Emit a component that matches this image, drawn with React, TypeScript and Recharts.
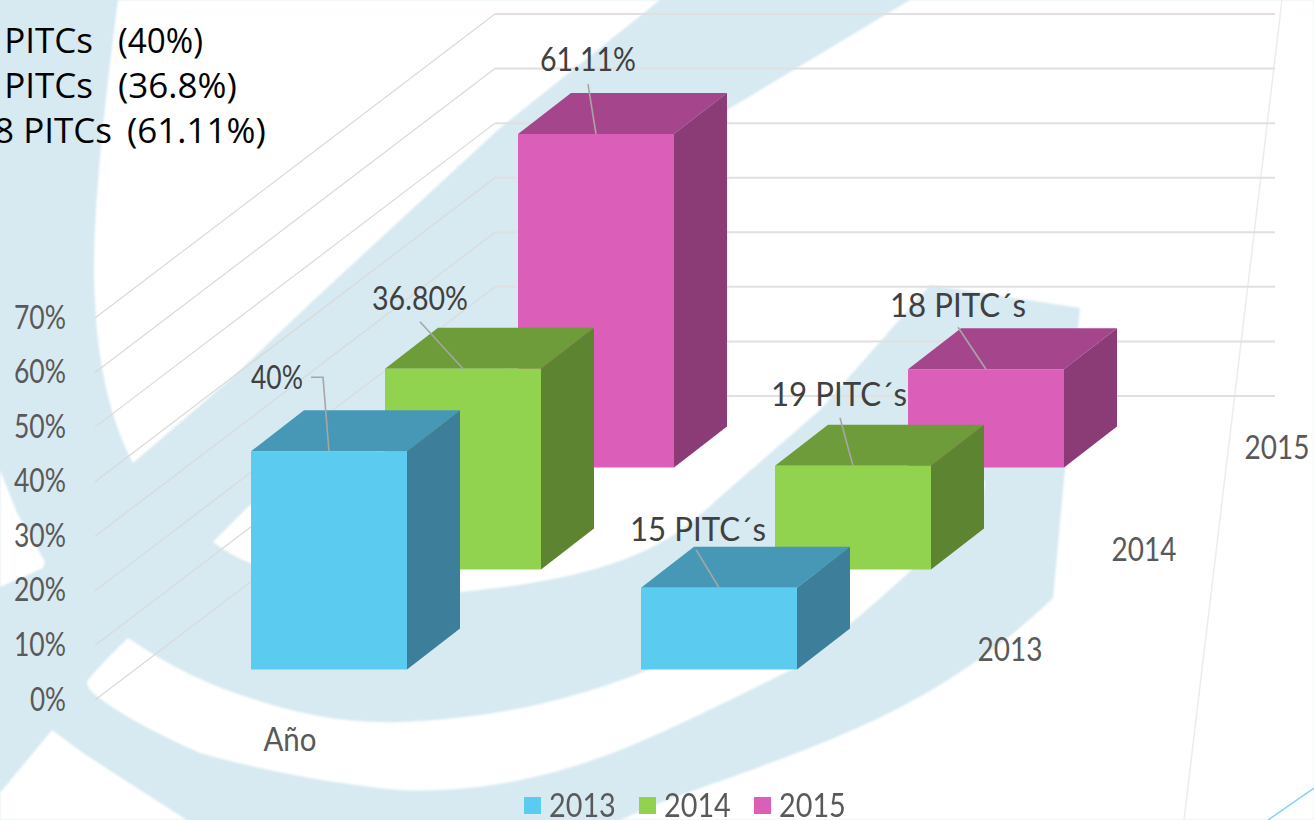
import { Bar, BarChart, CartesianGrid, LabelList, Legend, XAxis, YAxis } from 'recharts';

const categories = ['Año', ''];
const values2013 = [40, 15];
const values2014 = [36.8, 19];
const values2015 = [61.11, 18];
const labels2013 = ['40%', '15 PITC´s'];
const labels2014 = ['36.80%', '19 PITC´s'];
const labels2015 = ['61.11%', '18 PITC´s'];
const yTicks = [0, 10, 20, 30, 40, 50, 60, 70];
const depthLabels = ['2013', '2014', '2015'];

const rows = categories.map((name, i) => ({
  name,
  y2013: values2013[i],
  y2014: values2014[i],
  y2015: values2015[i],
}));

const FONT = 'Lato, sans-serif';
const GREY = '#595959';
const WATERMARK = '#d7eaf1';

// how far each series sits into the depth of the 3d box
const series3d = {
  y2013: { dx: 39, dy: -30.5, front: '#5ccbf0', top: '#4798b7', side: '#3d7e9a', labels: labels2013 },
  y2014: { dx: 173, dy: -130.5, front: '#91d24f', top: '#6e9c3b', side: '#5d8431', labels: labels2014 },
  y2015: { dx: 306, dy: -232.5, front: '#db5eb9', top: '#a5468c', side: '#8b3c76', labels: labels2015 },
};
const BAR_W = 156;
const DEPTH_X = 53;
const DEPTH_Y = -41;

// label centre relative to the middle of the bar's front top edge
const labelOffsets = {
  y2013: [{ x: -52, y: -75 }, { x: -21, y: -59 }],
  y2014: [{ x: -43, y: -71 }, { x: -14, y: -72 }],
  y2015: [{ x: -8, y: -76 }, { x: -28, y: -65 }],
};
const leaderStarts = {
  y2013: [[-6, -74], [-23, -38]],
  y2014: [[-43, -47], [-13, -48]],
  y2015: [[-8, -50], [-28, -42]],
};
const labelWidths = { short: 52, mid: 96, long: 136 };

const whiteAreas = [
  'M118,0 C105,100 90,230 95,300 C97,360 110,420 133,463 L233,377 L317,297 L500,128 L660,0 Z',
  'M910,0 L727,110 L530,340 L450,420 L250,505 L213,542 Q230,555 250,563 C320,590 400,600 461,592 C530,585 590,575 640,553 C680,535 700,515 720,497 L820,410 L930,285 L1080,308 L1053,598 C1000,650 930,695 868,723 C800,755 720,780 660,803 L620,820 L1314,820 L1314,0 Z',
  'M128,638 C165,663 200,682 250,698 C300,715 350,724 400,722 C500,719 590,695 660,665 L800,590 L985,480 L983,500 C930,555 870,610 797,667 C740,695 690,720 660,733 C590,765 500,795 400,790 C340,785 260,770 200,753 C160,735 120,715 93,693 Q85,685 88,680 Q100,665 128,638 Z',
  'M52,730 L0,793 L0,820 L187,820 L140,790 L83,753 Z',
  'M0,470 L17,513 L45,562 L43,568 L0,587 Z',
];

type SeriesKey = keyof typeof series3d;

function boxShape(key: SeriesKey) {
  const s = series3d[key];
  return (props: any) => {
    const x = props.x + s.dx;
    const y = props.y + s.dy;
    const w = props.width;
    const h = props.height;
    return (
      <g>
        <polygon
          points={`${x},${y} ${x + DEPTH_X},${y + DEPTH_Y} ${x + w + DEPTH_X},${y + DEPTH_Y} ${x + w},${y}`}
          fill={s.top}
        />
        <polygon
          points={`${x + w},${y} ${x + w + DEPTH_X},${y + DEPTH_Y} ${x + w + DEPTH_X},${y + h + DEPTH_Y} ${x + w},${y + h}`}
          fill={s.side}
        />
        <rect x={x} y={y} width={w} height={h} fill={s.front} />
      </g>
    );
  };
}

function boxLabel(key: SeriesKey) {
  const s = series3d[key];
  return (props: any) => {
    const box = props.viewBox ?? props;
    const cx = box.x + box.width / 2 + s.dx;
    const cy = box.y + s.dy;
    const off = labelOffsets[key][props.index];
    const start = leaderStarts[key][props.index];
    const text = s.labels[props.index];
    const points = [`${cx},${cy}`, `${cx + start[0]},${cy + start[1]}`];
    if (key === 'y2013' && props.index === 0) points.push(`${cx - 18},${cy + start[1]}`);
    const width = text.includes('PITC') ? labelWidths.long : text.length > 3 ? labelWidths.mid : labelWidths.short;
    return (
      <g>
        <polyline points={points.join(' ')} fill="none" stroke="#a6a6a6" strokeWidth={1.6} />
        <text
          x={cx + off.x}
          y={cy + off.y}
          textAnchor="middle"
          dominantBaseline="central"
          fontFamily={FONT}
          fontSize={32}
          textLength={width}
          lengthAdjust="spacingAndGlyphs"
          fill="#404040"
        >
          {text}
        </text>
      </g>
    );
  };
}

function wallLine(props: any) {
  const { x1, y1, x2, key } = props;
  const backX = x1 + 400;
  const backY = y1 - 304;
  return (
    <g key={key}>
      <line x1={x1} y1={y1} x2={backX} y2={backY} stroke="#d9d9d9" strokeWidth={1.2} />
      <line x1={backX} y1={backY} x2={x2 + 400} y2={backY} stroke="#e0e0e0" strokeWidth={2} />
    </g>
  );
}

function PercentTick({ y, payload }: any) {
  return (
    <text
      x={66}
      y={y - 2}
      textAnchor="end"
      dominantBaseline="central"
      fontFamily={FONT}
      fontSize={32}
      fill={GREY}
      textLength={payload.value === 0 ? 36 : 52}
      lengthAdjust="spacingAndGlyphs"
    >
      {`${payload.value}%`}
    </text>
  );
}

function CategoryTick({ x, payload }: any) {
  if (!payload.value) return <g />;
  return (
    <text
      x={x}
      y={738}
      textAnchor="middle"
      dominantBaseline="central"
      fontFamily={FONT}
      fontSize={32}
      fill={GREY}
      textLength={53}
      lengthAdjust="spacingAndGlyphs"
    >
      {payload.value}
    </text>
  );
}

function LegendRow({ payload }: any) {
  return (
    <div style={{ display: 'flex', fontFamily: FONT, fontSize: 32, color: GREY, lineHeight: '40px' }}>
      {(payload ?? []).map((item: any) => (
        <div key={item.value} style={{ display: 'flex', alignItems: 'center', marginRight: 25 }}>
          <span style={{ width: 17, height: 17, background: item.color, marginRight: 8 }} />
          <span style={{ display: 'inline-block', width: 65, transform: 'scaleX(0.9)', transformOrigin: 'left center' }}>
            {item.value}
          </span>
        </div>
      ))}
    </div>
  );
}

export default function App() {
  return (
    <div style={{ position: 'fixed', left: 0, top: 0, width: 1314, height: 820, overflow: 'hidden', background: '#fff' }}>
      <svg width={1314} height={820} style={{ position: 'absolute', left: 0, top: 0 }}>
        <rect width={1314} height={820} fill={WATERMARK} />
        <g style={{ filter: 'blur(0.8px)' }}>
          {whiteAreas.map((d) => (
            <path key={d} d={d} fill="#fff" />
          ))}
        </g>
        <line x1={1282} y1={0} x2={1184} y2={820} stroke="#ececec" strokeWidth={1.5} />
        <line x1={1268} y1={820} x2={1314} y2={788} stroke="#7fd4ee" strokeWidth={1.5} />
        <g fontFamily='"Open Sans", sans-serif' fontSize={35} fill="#000">
          <text x={93} y={53} textAnchor="end">15 PITCs</text>
          <text x={118} y={53} textLength={85} lengthAdjust="spacingAndGlyphs">(40%)</text>
          <text x={93} y={98} textAnchor="end">19 PITCs</text>
          <text x={118} y={98}>(36.8%)</text>
          <text x={112} y={143} textAnchor="end">18 PITCs</text>
          <text x={127} y={143}>(61.11%)</text>
        </g>
      </svg>
      <div style={{ position: 'absolute', left: 0, top: 0 }}>
        <BarChart
          width={1314}
          height={820}
          data={rows}
          barSize={BAR_W}
          barGap={-BAR_W}
          margin={{ top: 318, right: 439, bottom: 0, left: 0 }}
        >
          <CartesianGrid vertical={false} horizontal={wallLine} />
          <XAxis dataKey="name" height={120} axisLine={false} tickLine={false} tick={<CategoryTick />} interval={0} />
          <YAxis width={95} domain={[0, 70]} ticks={yTicks} axisLine={false} tickLine={false} tick={<PercentTick />} />
          <Legend
            layout="horizontal"
            verticalAlign="middle"
            align="center"
            itemSorter="value"
            wrapperStyle={{ top: 785, left: 524, width: 360, bottom: 'auto' }}
            content={<LegendRow />}
          />
          <Bar dataKey="y2015" name="2015" fill={series3d.y2015.front} shape={boxShape('y2015')} isAnimationActive={false}>
            <LabelList dataKey="y2015" content={boxLabel('y2015')} />
          </Bar>
          <Bar dataKey="y2014" name="2014" fill={series3d.y2014.front} shape={boxShape('y2014')} isAnimationActive={false}>
            <LabelList dataKey="y2014" content={boxLabel('y2014')} />
          </Bar>
          <Bar dataKey="y2013" name="2013" fill={series3d.y2013.front} shape={boxShape('y2013')} isAnimationActive={false}>
            <LabelList dataKey="y2013" content={boxLabel('y2013')} />
          </Bar>
        </BarChart>
      </div>
      <svg width={1314} height={820} style={{ position: 'absolute', left: 0, top: 0, pointerEvents: 'none' }}>
        {depthLabels.map((label, i) => {
          const s = [series3d.y2013, series3d.y2014, series3d.y2015][i];
          return (
            <text
              key={label}
              x={971 + s.dx}
              y={700 + s.dy - 21}
              textAnchor="middle"
              dominantBaseline="central"
              fontFamily={FONT}
              fontSize={32}
              fill={GREY}
              textLength={65}
              lengthAdjust="spacingAndGlyphs"
            >
              {label}
            </text>
          );
        })}
      </svg>
    </div>
  );
}
